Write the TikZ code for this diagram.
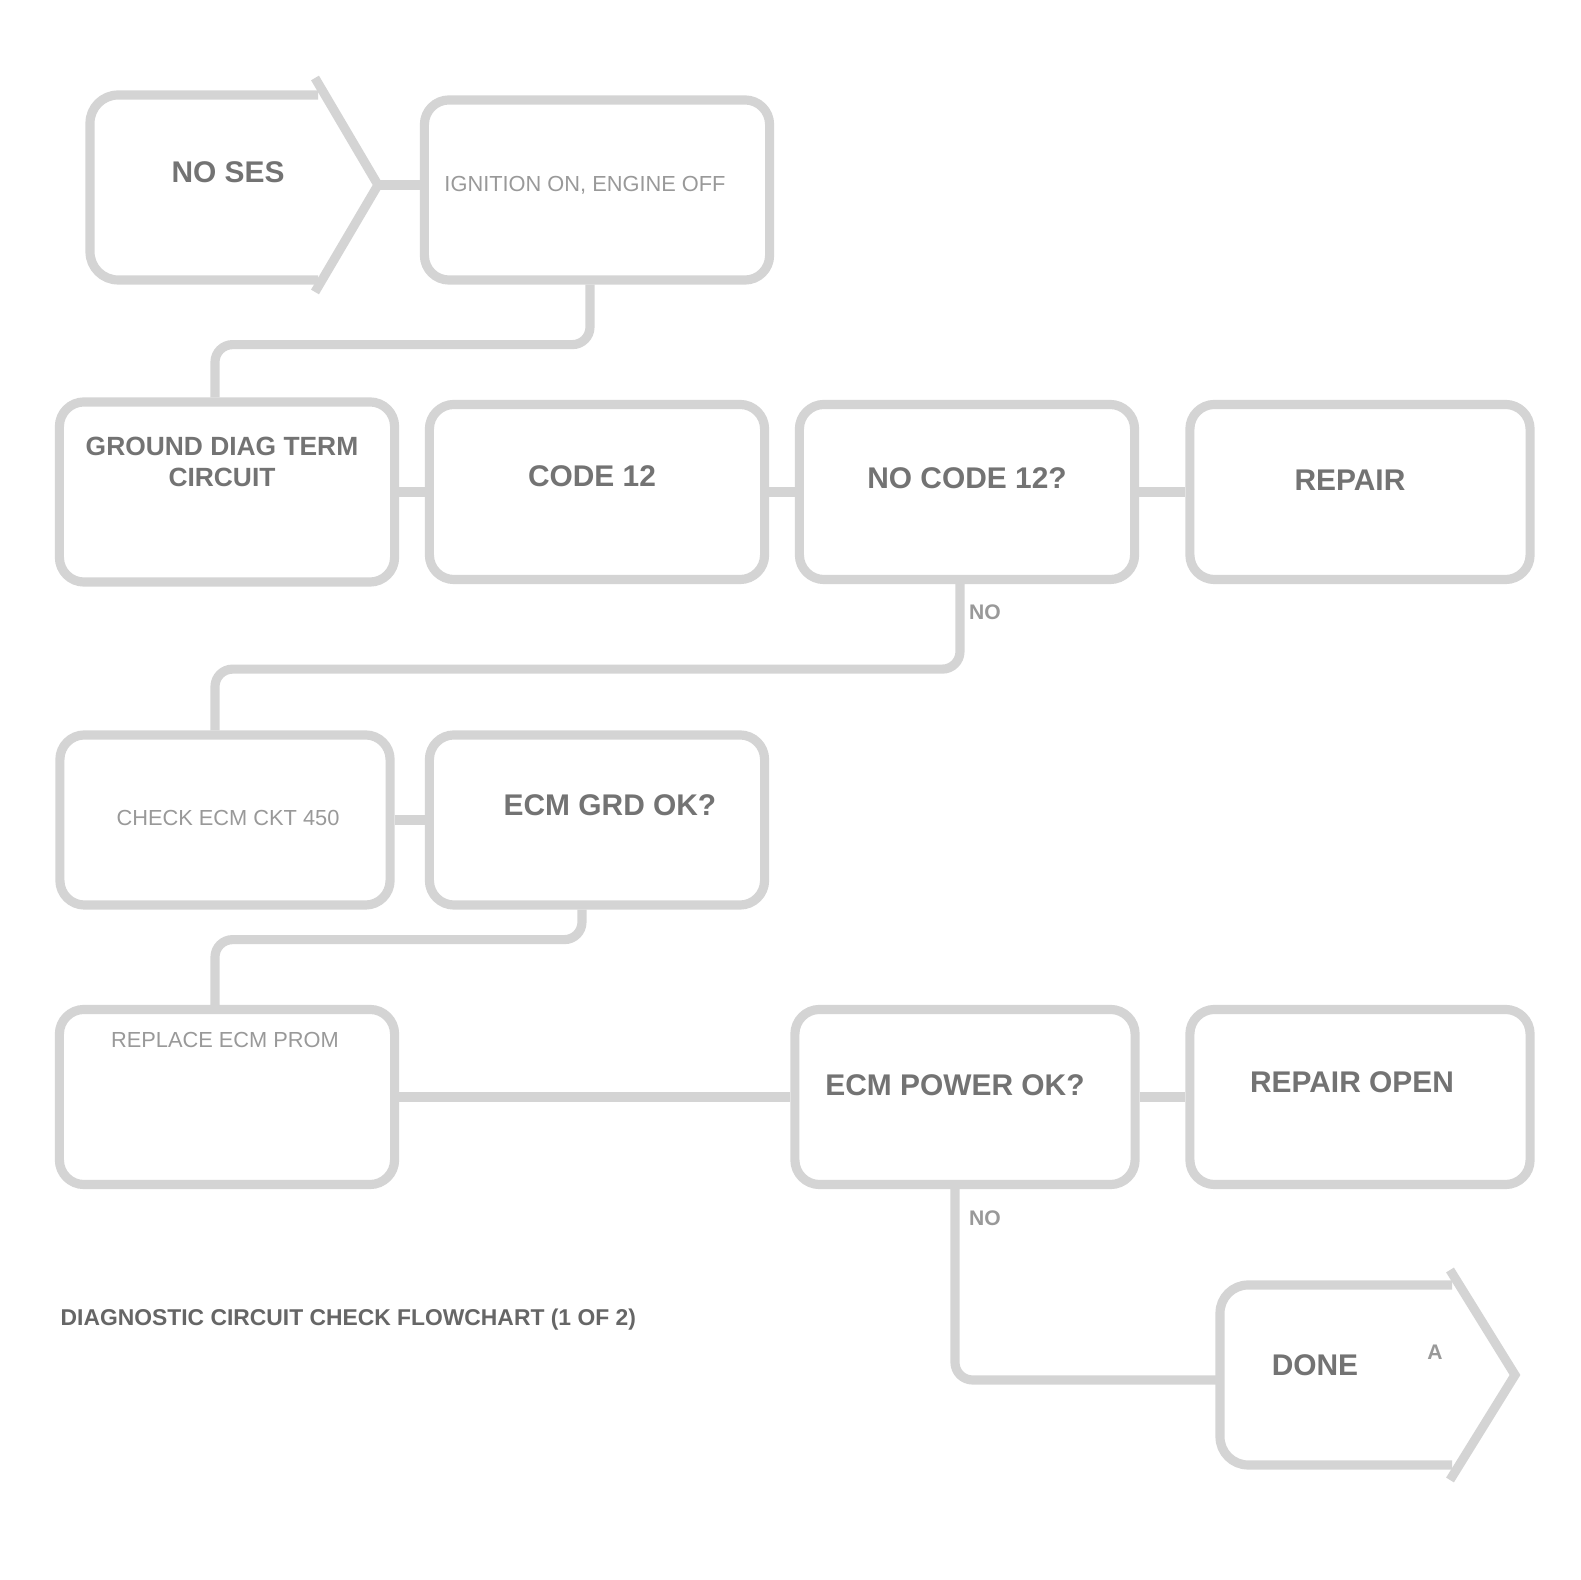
\documentclass[tikz,border=0pt]{standalone}
\usepackage{fontspec}
\setmainfont{Liberation Sans}
\usetikzlibrary{calc,arrows.meta}

\tikzset{
  stepbox/.style={draw=black!17, line width=2.6pt, rounded corners=7pt, inner sep=0pt},
  flowline/.style={draw=black!17, line width=2.6pt, rounded corners=5pt},
  boldtxt/.style={text=black!55, font=\fontsize{8.5}{9.5}\selectfont\bfseries, align=center, inner sep=0pt},
  smalltxt/.style={text=black!40, font=\fontsize{6.2}{7}\selectfont, align=center, inner sep=0pt},
  tagtxt/.style={text=black!40, font=\fontsize{6}{6}\selectfont\bfseries, inner sep=0pt}
}

\begin{document}
\begin{tikzpicture}[x=0.01cm, y=-0.01cm]
		%%%%% START %%%%%
		\useasboundingbox[fill=white] (0,0) rectangle (1581,1580);
		
		% start arrow
		\draw[flowline, rounded corners=8pt] (318,95) -- (90,95) -- (90,280) -- (318,280);
		\draw[flowline, rounded corners=0pt] (315,78) -- (378,185) -- (315,292);
		\coordinate (starttip) at (378,185);
		\node[boldtxt] (start) at (228,172) {NO SES};
		
		% row 1
		\node[stepbox, minimum width=3.45cm, minimum height=1.8cm] (onkey) at (597,190) {};
		\node[smalltxt] (onkeytxt) at (585,185) {IGNITION ON, ENGINE OFF};
		
		% row 2
		\node[stepbox, minimum width=3.35cm, minimum height=1.8cm] (ground) at (227,492) {};
		\node[boldtxt, font=\fontsize{7.5}{9}\selectfont\bfseries] (groundtxt) at (222,462) {GROUND DIAG TERM\\CIRCUIT};
		\node[stepbox, minimum width=3.35cm, minimum height=1.75cm] (code) at (597,492) {};
		\node[boldtxt] (codetxt) at (592,476) {CODE 12};
		\node[stepbox, minimum width=3.35cm, minimum height=1.75cm] (flash) at (967,492) {};
		\node[boldtxt] (flashtxt) at (967,478) {NO CODE 12?};
		\node[stepbox, minimum width=3.4cm, minimum height=1.75cm] (repair) at (1360,492) {};
		\node[boldtxt] (repairtxt) at (1350,480) {REPAIR};
		
		% row 3
		\node[stepbox, minimum width=3.3cm, minimum height=1.7cm] (ecmckt) at (225,820) {};
		\node[smalltxt] (ecmckttxt) at (228,818) {CHECK ECM CKT 450};
		\node[stepbox, minimum width=3.35cm, minimum height=1.7cm] (ecmok) at (597,820) {};
		\node[boldtxt] (ecmoktxt) at (610,805) {ECM GRD OK?};
		
		% row 4
		\node[stepbox, minimum width=3.35cm, minimum height=1.75cm] (prom) at (227,1097) {};
		\node[smalltxt] (promtxt) at (225,1040) {REPLACE ECM PROM};
		\node[stepbox, minimum width=3.4cm, minimum height=1.75cm] (power) at (965,1097) {};
		\node[boldtxt] (powertxt) at (955,1085) {ECM POWER OK?};
		\node[stepbox, minimum width=3.4cm, minimum height=1.75cm] (opencirc) at (1360,1097) {};
		\node[boldtxt] (opencirctxt) at (1352,1082) {REPAIR OPEN};
		
		% end arrow
		\draw[flowline, rounded corners=8pt] (1452,1285) -- (1220,1285) -- (1220,1465) -- (1452,1465);
		\draw[flowline, rounded corners=0pt] (1450,1270) -- (1515,1375) -- (1450,1480);
		\coordinate (endleft) at (1220,1380);
		\node[boldtxt] (done) at (1315,1365) {DONE};
		\node[tagtxt] (donetag) at (1435,1352) {A};
		
		% connectors
		\draw[flowline] (starttip) -- (starttip -| onkey.west);
		\draw[flowline] ([xshift=-0.07cm]onkey.south) -- ++(0,60) -| ([xshift=-0.12cm]ground.north);
		\draw[flowline] (ground.east) -- (code.west);
		\draw[flowline] (code.east) -- (flash.west);
		\draw[flowline] (flash.east) -- (repair.west);
		\draw[flowline] ([xshift=-0.07cm]flash.south) -- ++(0,85) -| ([xshift=-0.1cm]ecmckt.north);
		\node[tagtxt] (flashno) at (985,612) {NO};
		\draw[flowline] (ecmckt.east) -- (ecmok.west);
		\draw[flowline] ([xshift=-0.15cm]ecmok.south) -- ++(0,30) -| ([xshift=-0.12cm]prom.north);
		\draw[flowline] (prom.east) -- (power.west);
		\draw[flowline] (power.east) -- (opencirc.west);
		\draw[flowline] ([xshift=-0.1cm]power.south) |- (endleft);
		\node[tagtxt] (powerno) at (985,1218) {NO};
		
		% caption
		\node[text=black!60, font=\fontsize{6.5}{7}\selectfont\bfseries, anchor=west, inner sep=0pt] (caption) at (60,1320) {DIAGNOSTIC CIRCUIT CHECK FLOWCHART (1 OF 2)};
		%%%%% END %%%%%
	\end{tikzpicture}
\end{document}
